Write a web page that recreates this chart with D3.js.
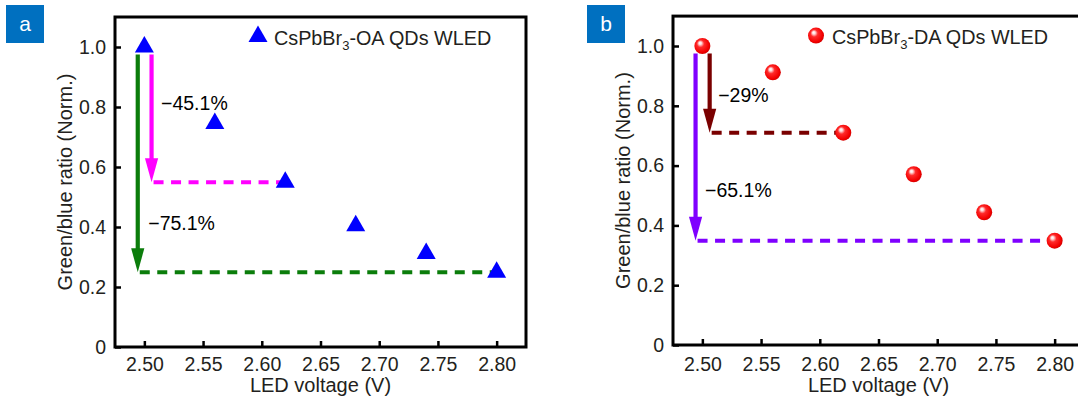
<!DOCTYPE html>
<html>
<head>
<meta charset="utf-8">
<script src="https://cdn.jsdelivr.net/npm/d3@7"></script>
<style>
  html, body { margin: 0; padding: 0; background: #fff; }
  svg { display: block; font-family: "Liberation Sans", Arial, Helvetica, sans-serif; }
</style>
</head>
<body>
<svg id="chart" width="1078" height="399"></svg>
<script>
// ---- data ----
const voltages = [2.50, 2.56, 2.62, 2.68, 2.74, 2.80];
const ratioOA = [1.0, 0.745, 0.549, 0.404, 0.312, 0.249];
const ratioDA = [1.0, 0.912, 0.71, 0.571, 0.444, 0.349];
const xTicks = [2.50, 2.55, 2.60, 2.65, 2.70, 2.75, 2.80];
const yTicks = [0, 0.2, 0.4, 0.6, 0.8, 1.0];
// percentage drops of the ratio relative to the 2.50 V value, and the voltage each is reached at
const dropsOA = [45.1, 75.1];
const dropVoltsOA = [2.62, 2.80];
const dropsDA = [29, 65.1];
const dropVoltsDA = [2.62, 2.80];

// ---- layout / style ----
const svg = d3.select("#chart");
const xDomain = [2.475, 2.825];
const yDomain = [0, 1.1];
const FONT = 19.5;
const textColor = "#231f20";

const panels = [
  {
    tag: "a", left: 115, right: 526, y0: 347, unit: 300,
    values: ratioOA, marker: "triangle",
    legend: ["CsPbBr", "3", "-OA QDs WLED"],
    drops: dropsOA, dropVolts: dropVoltsOA,
    arrowColors: ["#ff00ff", "#0b7d0b"],
    arrowOffsets: [7.2, -6.6],
    labelPos: [{dx: 9.5, v: 0.79}, {dx: 10.5, v: 0.39}],
    tagBox: 6, labelPad: 10, yTitleX: 72
  },
  {
    tag: "b", left: 673, right: 1084, y0: 345, unit: 299,
    values: ratioDA, marker: "ball",
    legend: ["CsPbBr", "3", "-DA QDs WLED"],
    drops: dropsDA, dropVolts: dropVoltsDA,
    arrowColors: ["#7a0000", "#7f00ff"],
    arrowOffsets: [7.3, -6.8],
    labelPos: [{dx: 8.5, v: 0.813}, {dx: 9.5, v: 0.495}],
    tagBox: 587, labelPad: 12, yTitleX: 630
  }
];

// shaded red sphere for the DA markers
const defs = svg.append("defs");
const grad = defs.append("radialGradient")
  .attr("id", "ball").attr("cx", "45%").attr("cy", "45%").attr("r", "60%")
  .attr("fx", "35%").attr("fy", "30%");
[[0, "#ffffff"], [0.14, "#ffe0e0"], [0.38, "#ff2a2a"], [0.8, "#f20000"], [1, "#c80000"]]
  .forEach(([o, c]) => grad.append("stop").attr("offset", o).attr("stop-color", c));

function triPath(cx, cy, w) {
  const h = w * Math.sqrt(3) / 2;
  return `M${cx},${cy - h * 2 / 3}L${cx - w / 2},${cy + h / 3}L${cx + w / 2},${cy + h / 3}Z`;
}

function drawMarker(g, type, cx, cy) {
  if (type === "triangle") {
    g.append("path").attr("d", triPath(cx, cy, 19)).attr("fill", "#0000ff");
  } else {
    g.append("circle").attr("cx", cx).attr("cy", cy).attr("r", 8).attr("fill", "url(#ball)");
  }
}

panels.forEach(p => {
  const top = p.y0 - yDomain[1] * p.unit;
  const x = d3.scaleLinear().domain(xDomain).range([p.left, p.right]);
  const y = d3.scaleLinear().domain(yDomain).range([p.y0, top]);
  const g = svg.append("g");

  // panel tag
  g.append("rect").attr("x", p.tagBox).attr("y", 5).attr("width", 38).attr("height", 38)
    .attr("fill", "#0070c0");
  g.append("text").attr("x", p.tagBox + 19).attr("y", 31).attr("text-anchor", "middle")
    .attr("fill", "#fff").attr("font-size", 21).text(p.tag);

  // axes (ticks point inward)
  const xAxis = d3.axisBottom(x).tickValues(xTicks).tickFormat(d3.format(".2f"))
    .tickSizeInner(-6).tickSizeOuter(0).tickPadding(p.labelPad);
  const yAxis = d3.axisLeft(y).tickValues(yTicks).tickFormat(d => d === 0 ? "0" : d3.format(".1f")(d))
    .tickSizeInner(-6).tickSizeOuter(0).tickPadding(9);

  const gx = g.append("g").attr("transform", `translate(0,${p.y0})`).call(xAxis);
  const gy = g.append("g").attr("transform", `translate(${p.left},0)`).call(yAxis);
  [gx, gy].forEach(a => {
    a.select(".domain").remove();
    a.selectAll(".tick line").attr("stroke", "#000").attr("stroke-width", 2.5);
    a.selectAll(".tick text").attr("font-size", FONT).attr("fill", textColor)
      .attr("font-family", "Liberation Sans, Arial, sans-serif");
  });

  // frame
  g.append("rect").attr("x", p.left).attr("y", top)
    .attr("width", p.right - p.left).attr("height", p.y0 - top)
    .attr("fill", "none").attr("stroke", "#000").attr("stroke-width", 3);

  // axis titles
  g.append("text").attr("x", (p.left + p.right) / 2).attr("y", 392)
    .attr("text-anchor", "middle").attr("font-size", FONT + 0.5).attr("fill", textColor)
    .text("LED voltage (V)");
  g.append("text")
    .attr("transform", `translate(${p.yTitleX},${(top + p.y0) / 2}) rotate(-90)`)
    .attr("text-anchor", "middle").attr("font-size", FONT + 0.5).attr("fill", textColor)
    .text("Green/blue ratio (Norm.)");

  // drop annotations: arrow from the 2.50 V level down to the reduced level, then dashed guide
  const base = x(voltages[0]);
  p.drops.forEach((drop, i) => {
    const level = p.values[0] * (1 - drop / 100);
    const ax = base + p.arrowOffsets[i];
    const tipY = y(level);
    const color = p.arrowColors[i];
    const headLen = 24, headHalf = 6.6;

    g.append("line")
      .attr("x1", ax + 2).attr("x2", x(p.dropVolts[i]) - 3)
      .attr("y1", tipY).attr("y2", tipY)
      .attr("stroke", color).attr("stroke-width", 4)
      .attr("stroke-dasharray", "10,7.5");

    g.append("line")
      .attr("x1", ax).attr("x2", ax)
      .attr("y1", y(0.975)).attr("y2", tipY - headLen + 2)
      .attr("stroke", color).attr("stroke-width", 4.2);
    g.append("path")
      .attr("d", `M${ax - headHalf},${tipY - headLen}L${ax + headHalf},${tipY - headLen}L${ax},${tipY}Z`)
      .attr("fill", color);

    g.append("text")
      .attr("x", ax + p.labelPos[i].dx).attr("y", y(p.labelPos[i].v))
      .attr("font-size", FONT).attr("fill", "#000")
      .text(`\u2212${drop}%`);
  });

  // data markers
  voltages.forEach((v, i) => drawMarker(g, p.marker, x(v), y(p.values[i])));

  // legend
  const lx = p.left + 143, ly = top + 19.5;
  drawMarker(g, p.marker, lx, ly);
  const lt = g.append("text").attr("x", lx + 16).attr("y", ly + 8)
    .attr("font-size", FONT + 0.3).attr("fill", textColor);
  lt.append("tspan").text(p.legend[0]);
  lt.append("tspan").attr("font-size", 13).attr("dy", 5).text(p.legend[1]);
  lt.append("tspan").attr("dy", -5).text(p.legend[2]);
});
</script>
</body>
</html>
